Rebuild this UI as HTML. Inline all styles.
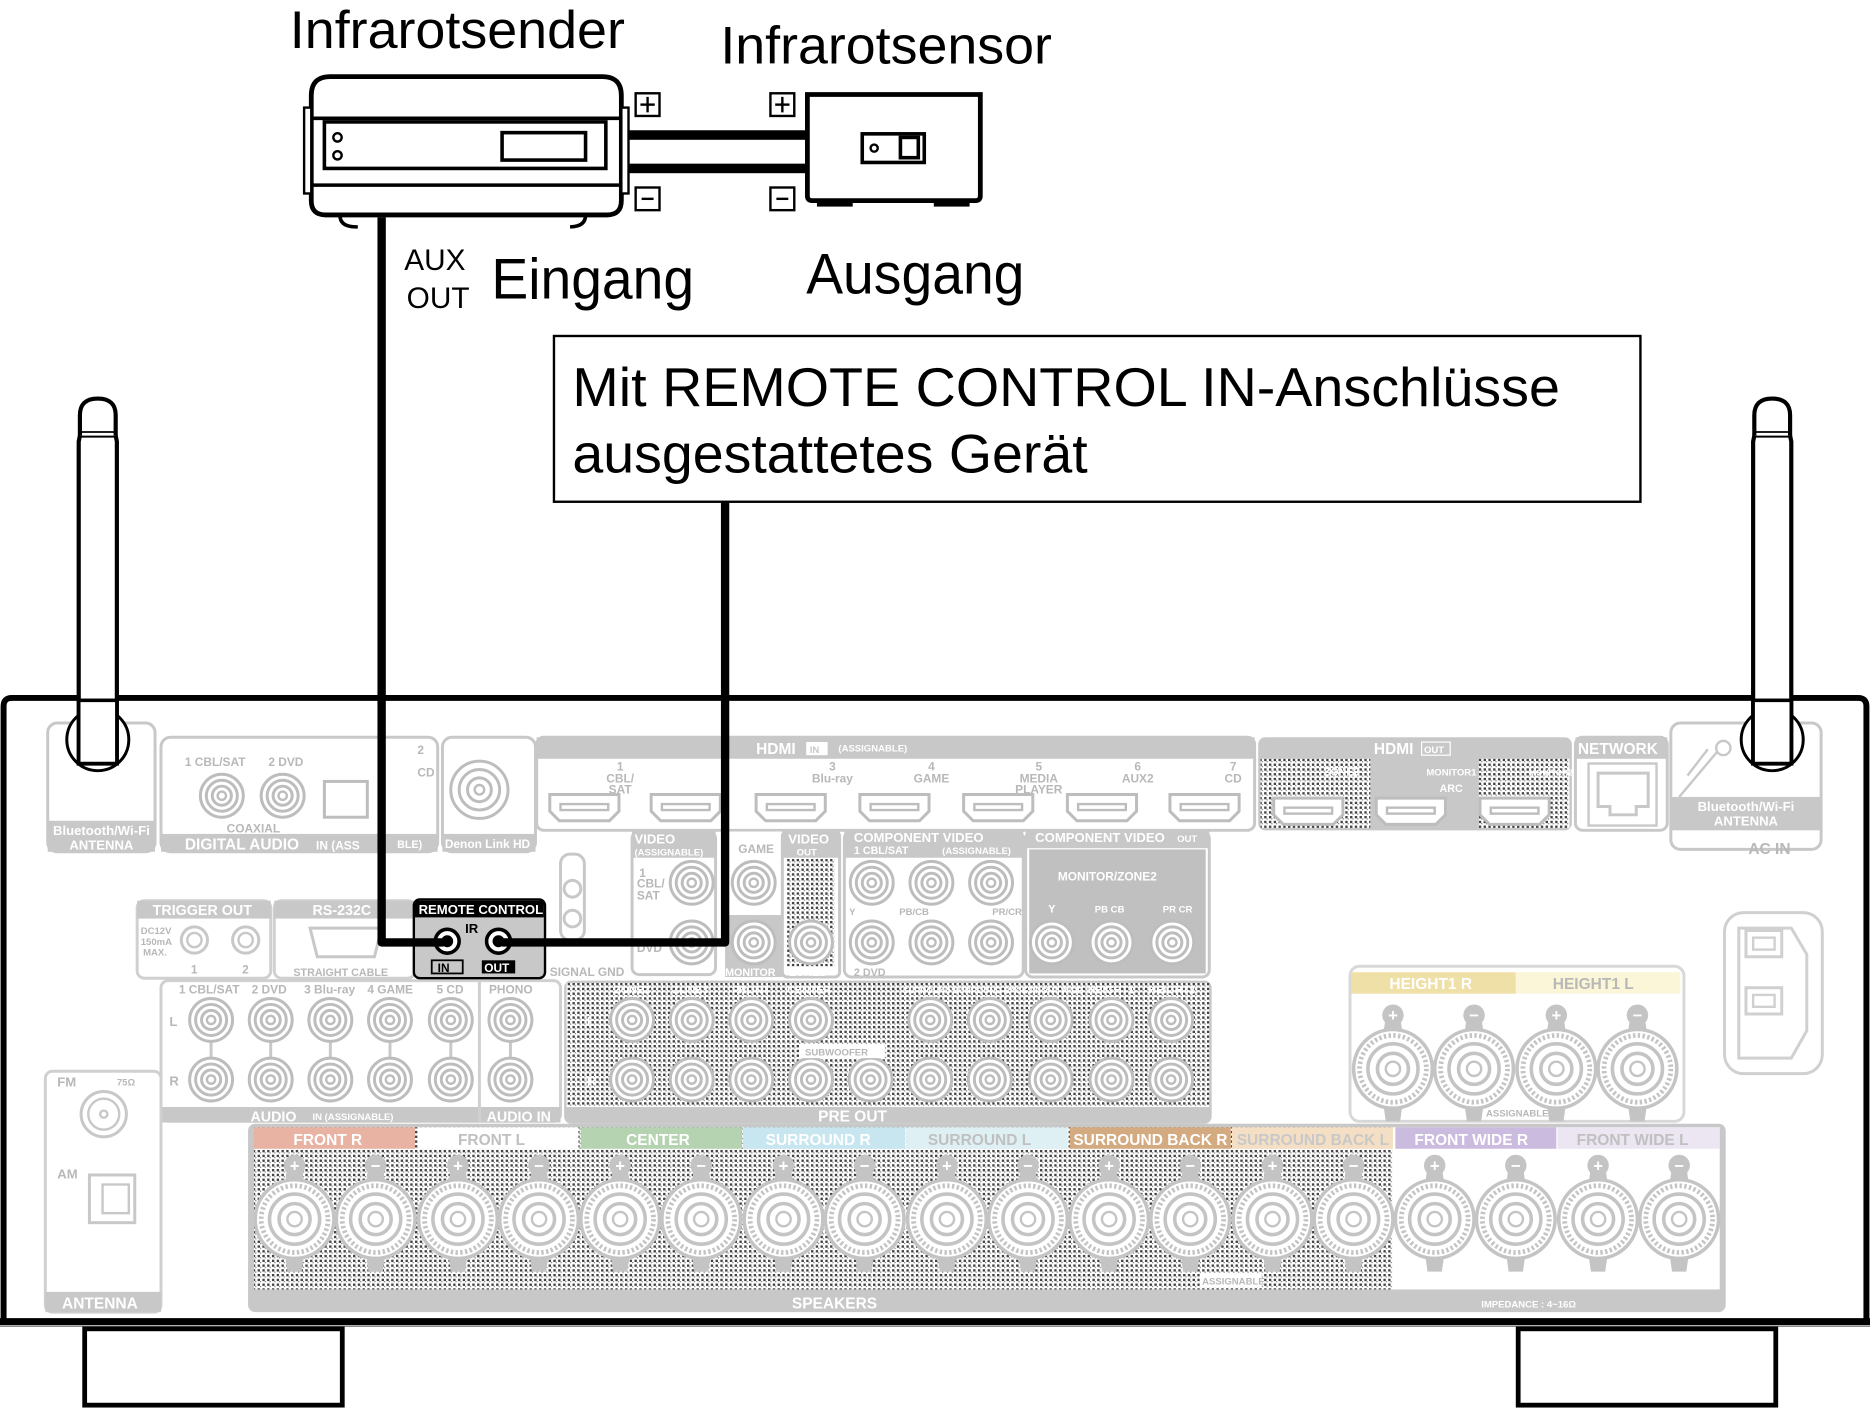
<!DOCTYPE html>
<html><head><meta charset="utf-8"><style>
html,body{margin:0;padding:0;background:#fff}
svg{display:block}
text{font-family:"Liberation Sans",sans-serif}
.g{fill:#fff;font-weight:bold}
.gl{fill:#b8b8b8;font-weight:bold}
</style></head><body>
<svg width="1870" height="1409" viewBox="0 0 1568 1181" xmlns="http://www.w3.org/2000/svg">
<defs>
<pattern id="dots" width="4" height="4" patternUnits="userSpaceOnUse">
<rect width="4" height="4" fill="#fff"/><rect x="0" y="0" width="2" height="2" fill="#444"/><rect x="2" y="2" width="1" height="1" fill="#777"/>
</pattern>
<g id="rca"><circle r="18" fill="#fff" stroke="#bdbdbd" stroke-width="2.5"/><circle r="13" fill="none" stroke="#bdbdbd" stroke-width="2.5"/><circle r="8" fill="none" stroke="#bdbdbd" stroke-width="2.5"/><circle r="3.5" fill="none" stroke="#bdbdbd" stroke-width="2"/></g>
<g id="spk"><path d="M-6,-44 L6,-44 L8,-30 L-8,-30Z M-6,44 L6,44 L8,30 L-8,30Z" fill="#c4c4c4"/><circle r="33" fill="#fff" stroke="#c4c4c4" stroke-width="3"/><circle r="28" fill="none" stroke="#c4c4c4" stroke-width="4" stroke-dasharray="2 2"/><circle r="21" fill="none" stroke="#c4c4c4" stroke-width="3"/><circle r="13" fill="none" stroke="#c4c4c4" stroke-width="3"/><circle r="6" fill="none" stroke="#c4c4c4" stroke-width="2"/></g>
<g id="pair"><rect x="30" y="-5" width="8" height="10" fill="#c4c4c4"/><use href="#spk" x="0"/><use href="#spk" x="68"/><circle cx="0" cy="-45" r="9" fill="#c4c4c4"/><circle cx="68" cy="-45" r="9" fill="#c4c4c4"/><text x="0" y="-40" font-size="14" text-anchor="middle" fill="#fff" font-weight="bold">+</text><text x="68" y="-40" font-size="14" text-anchor="middle" fill="#fff" font-weight="bold">−</text></g>
<g id="hdmi"><path d="M-29,-11 L29,-11 L29,3 L21,11 L-21,11 L-29,3Z" fill="#fff" stroke="#bdbdbd" stroke-width="2.5"/><rect x="-20" y="-3" width="40" height="5" fill="none" stroke="#bdbdbd" stroke-width="2"/></g>
</defs>

<!-- top labels -->
<text x="243" y="40" font-size="44" fill="#000" textLength="281" lengthAdjust="spacingAndGlyphs">Infrarotsender</text>
<text x="604" y="53" font-size="44" fill="#000" textLength="278" lengthAdjust="spacingAndGlyphs">Infrarotsensor</text>
<text x="339" y="226" font-size="25" fill="#000">AUX</text>
<text x="341" y="258" font-size="25" fill="#000">OUT</text>
<text x="412" y="250" font-size="48" fill="#000" textLength="170" lengthAdjust="spacingAndGlyphs">Eingang</text>
<text x="676" y="246" font-size="48" fill="#000" textLength="183" lengthAdjust="spacingAndGlyphs">Ausgang</text>

<!-- transmitter -->
<path d="M261,168 L261,80 Q261,64 277,64 L505,64 Q521,64 521,80 L521,168 Q521,180 509,180 L273,180 Q261,180 261,168Z" fill="#fff" stroke="#000" stroke-width="4"/>
<line x1="261" y1="99" x2="521" y2="99" stroke="#000" stroke-width="3"/>
<line x1="261" y1="155" x2="521" y2="155" stroke="#000" stroke-width="3"/>
<rect x="255" y="90" width="6" height="72" fill="#fff" stroke="#000" stroke-width="2"/>
<rect x="521" y="90" width="6" height="72" fill="#fff" stroke="#000" stroke-width="2"/>
<rect x="272" y="102" width="236" height="39" fill="#fff" stroke="#000" stroke-width="3"/>
<circle cx="283" cy="115" r="3.5" fill="#fff" stroke="#000" stroke-width="2"/>
<circle cx="283" cy="130" r="3.5" fill="#fff" stroke="#000" stroke-width="2"/>
<rect x="421" y="111" width="70" height="23" fill="#fff" stroke="#000" stroke-width="3"/>
<path d="M285,180 Q285,190 298,190 L300,190 M478,190 Q491,190 491,180" fill="none" stroke="#000" stroke-width="3"/>
<!-- wires -->
<rect x="527" y="109" width="150" height="8" fill="#000"/>
<rect x="527" y="137" width="150" height="8" fill="#000"/>
<!-- sensor -->
<path d="M677,79 L822,79 L822,164 Q822,168 818,168 L681,168 Q677,168 677,164Z" fill="#fff" stroke="#000" stroke-width="4"/>
<rect x="685" y="168" width="30" height="5" fill="#000"/><rect x="783" y="168" width="30" height="5" fill="#000"/>
<rect x="723" y="112" width="52" height="24" fill="#fff" stroke="#000" stroke-width="3"/>
<circle cx="733" cy="124" r="3" fill="#fff" stroke="#000" stroke-width="2"/>
<rect x="755" y="115" width="15" height="17" fill="#fff" stroke="#000" stroke-width="3"/>
<!-- +/- boxes -->
<g fill="#fff" stroke="#000" stroke-width="2">
<rect x="533" y="78" width="20" height="19"/><rect x="646" y="78" width="20" height="19"/>
<rect x="533" y="157" width="20" height="19"/><rect x="646" y="157" width="20" height="19"/></g>
<g stroke="#000" stroke-width="2">
<line x1="537" y1="87.5" x2="549" y2="87.5"/><line x1="543" y1="81" x2="543" y2="94"/>
<line x1="650" y1="87.5" x2="662" y2="87.5"/><line x1="656" y1="81" x2="656" y2="94"/>
<line x1="538" y1="166.5" x2="548" y2="166.5"/><line x1="651" y1="166.5" x2="661" y2="166.5"/></g>

<!-- text box -->
<rect x="464.5" y="281.5" width="911" height="139" fill="#fff" stroke="#000" stroke-width="2"/>
<text x="480" y="340" font-size="46" fill="#000" textLength="828" lengthAdjust="spacingAndGlyphs">Mit REMOTE CONTROL IN-Anschlüsse</text>
<text x="480" y="396" font-size="46" fill="#000" textLength="432" lengthAdjust="spacingAndGlyphs">ausgestattetes Gerät</text>

<!-- receiver body -->
<path d="M3,1106 L3,592 Q3,585 10,585 L1558,585 Q1565,585 1565,592 L1565,1106" fill="#fff" stroke="#000" stroke-width="5"/>
<line x1="0" y1="1108" x2="1568" y2="1108" stroke="#000" stroke-width="6"/>
<line x1="0" y1="1112" x2="1568" y2="1112" stroke="#888" stroke-width="1"/>
<rect x="71" y="1114" width="216" height="64" fill="#fff" stroke="#000" stroke-width="4"/>
<rect x="1273" y="1114" width="216" height="64" fill="#fff" stroke="#000" stroke-width="4"/>

<!-- left antenna panel -->
<rect x="40" y="606" width="90" height="108" rx="8" fill="#fff" stroke="#c8c8c8" stroke-width="2.5"/>
<rect x="40" y="688" width="90" height="26" fill="#c8c8c8"/>
<text x="85" y="700" font-size="11" class="g" text-anchor="middle">Bluetooth/Wi-Fi</text>
<text x="85" y="712" font-size="11" class="g" text-anchor="middle">ANTENNA</text>
<!-- digital audio -->
<rect x="135" y="618" width="232" height="96" rx="8" fill="#fff" stroke="#c8c8c8" stroke-width="2.5"/>
<rect x="135" y="699" width="232" height="15" fill="#c8c8c8"/>
<text x="155" y="642" font-size="10" class="gl">1 CBL/SAT</text><text x="225" y="642" font-size="10" class="gl">2 DVD</text>
<text x="350" y="632" font-size="10" class="gl">2</text><text x="350" y="651" font-size="10" class="gl">CD</text>
<use href="#rca" x="186" y="667"/><use href="#rca" x="237" y="667"/>
<rect x="272" y="655" width="36" height="30" fill="#fff" stroke="#bdbdbd" stroke-width="2.5"/>
<text x="190" y="698" font-size="10" class="gl">COAXIAL</text>
<text x="155" y="712" font-size="13" class="g">DIGITAL AUDIO</text>
<text x="265" y="712" font-size="10" class="g">IN (ASS</text><text x="333" y="711" font-size="9" class="g">BLE)</text>
<rect x="371" y="618" width="78" height="96" rx="8" fill="#fff" stroke="#c8c8c8" stroke-width="2.5"/>
<rect x="371" y="699" width="78" height="15" fill="#c8c8c8"/>
<text x="373" y="711" font-size="10" class="g">Denon Link HD</text>
<circle cx="402" cy="662" r="24" fill="#fff" stroke="#bdbdbd" stroke-width="2.5"/><circle cx="402" cy="662" r="17" fill="none" stroke="#bdbdbd" stroke-width="2.5"/><circle cx="402" cy="662" r="10" fill="none" stroke="#bdbdbd" stroke-width="2.5"/><circle cx="402" cy="662" r="4" fill="none" stroke="#bdbdbd" stroke-width="2"/>

<!-- HDMI in -->
<rect x="450" y="618" width="602" height="78" rx="6" fill="#fff" stroke="#c8c8c8" stroke-width="2.5"/>
<rect x="450" y="618" width="602" height="18" fill="#c8c8c8"/>
<text x="634" y="632" font-size="13" class="g">HDMI</text><rect x="676" y="622" width="18" height="11" fill="#fff"/><text x="679" y="631" font-size="8" fill="#c8c8c8" font-weight="bold">IN</text>
<text x="703" y="630" font-size="8" class="g">(ASSIGNABLE)</text>
<g font-size="10" class="gl" text-anchor="middle">
<text x="520" y="646">1</text><text x="520" y="656">CBL/</text><text x="520" y="665">SAT</text>
<text x="698" y="646">3</text><text x="698" y="656">Blu-ray</text>
<text x="781" y="646">4</text><text x="781" y="656">GAME</text>
<text x="871" y="646">5</text><text x="871" y="656">MEDIA</text><text x="871" y="665">PLAYER</text>
<text x="954" y="646">6</text><text x="954" y="656">AUX2</text>
<text x="1034" y="646">7</text><text x="1034" y="656">CD</text></g>
<use href="#hdmi" x="490" y="677"/><use href="#hdmi" x="575" y="677"/><use href="#hdmi" x="663" y="677"/><use href="#hdmi" x="750" y="677"/><use href="#hdmi" x="837" y="677"/><use href="#hdmi" x="924" y="677"/><use href="#hdmi" x="1010" y="677"/>
<!-- HDMI out -->
<rect x="1055" y="618" width="263" height="78" rx="6" fill="#c8c8c8"/>
<rect x="1057" y="636" width="92" height="58" fill="url(#dots)"/>
<rect x="1240" y="636" width="76" height="58" fill="url(#dots)"/>
<text x="1152" y="632" font-size="13" class="g">HDMI</text><rect x="1192" y="622" width="24" height="11" fill="none" stroke="#fff"/><text x="1194" y="631" font-size="8" class="g">OUT</text>
<text x="1110" y="650" font-size="9" class="g">ZONE2</text><text x="1196" y="650" font-size="8" class="g">MONITOR1</text><text x="1207" y="664" font-size="9" class="g">ARC</text><text x="1282" y="650" font-size="7" class="g">MONITOR2</text>
<use href="#hdmi" x="1097" y="680"/><use href="#hdmi" x="1183" y="680"/><use href="#hdmi" x="1270" y="680"/>
<!-- network -->
<rect x="1321" y="618" width="77" height="78" rx="6" fill="#fff" stroke="#c8c8c8" stroke-width="2.5"/>
<rect x="1321" y="618" width="77" height="18" fill="#c8c8c8"/>
<text x="1323" y="632" font-size="13" class="g">NETWORK</text>
<rect x="1332" y="640" width="57" height="52" fill="#fff" stroke="#c8c8c8" stroke-width="2"/>
<path d="M1340,648 H1382 V676 H1372 V683 H1350 V676 H1340Z" fill="none" stroke="#c8c8c8" stroke-width="2.5"/>
<!-- right antenna panel -->
<rect x="1401" y="606" width="126" height="106" rx="8" fill="#fff" stroke="#c8c8c8" stroke-width="2.5"/>
<rect x="1401" y="668" width="126" height="28" fill="#c8c8c8"/>
<text x="1464" y="680" font-size="11" class="g" text-anchor="middle">Bluetooth/Wi-Fi</text>
<text x="1464" y="692" font-size="11" class="g" text-anchor="middle">ANTENNA</text>
<path d="M1408,668 L1440,630 M1415,650 L1432,628" stroke="#c8c8c8" stroke-width="2" fill="none"/>
<circle cx="1445" cy="627" r="6" fill="none" stroke="#c8c8c8" stroke-width="2"/>
<text x="1466" y="716" font-size="13" class="gl">AC IN</text>
<!-- AC inlet -->
<rect x="1446" y="765" width="82" height="135" rx="16" fill="#fff" stroke="#d0d0d0" stroke-width="2.5"/>
<path d="M1458,778 H1502 L1515,800 V864 L1502,887 H1458Z" fill="#fff" stroke="#d0d0d0" stroke-width="2.5"/>
<rect x="1464" y="780" width="30" height="22" fill="none" stroke="#d0d0d0" stroke-width="2.5"/><rect x="1470" y="786" width="18" height="10" fill="none" stroke="#d0d0d0" stroke-width="2"/>
<rect x="1464" y="828" width="30" height="22" fill="none" stroke="#d0d0d0" stroke-width="2.5"/><rect x="1470" y="834" width="18" height="10" fill="none" stroke="#d0d0d0" stroke-width="2"/>

<!-- video in / signal gnd -->
<rect x="470" y="716" width="20" height="72" rx="8" fill="#fff" stroke="#c8c8c8" stroke-width="2.5"/>
<circle cx="480" cy="745" r="7" fill="none" stroke="#c8c8c8" stroke-width="2.5"/><circle cx="480" cy="770" r="7" fill="none" stroke="#c8c8c8" stroke-width="2.5"/>
<text x="461" y="818" font-size="10" class="gl">SIGNAL GND</text>
<rect x="530" y="697" width="70" height="120" rx="6" fill="#fff" stroke="#c8c8c8" stroke-width="2.5"/>
<rect x="530" y="697" width="70" height="22" fill="#c8c8c8"/>
<text x="532" y="707" font-size="11" class="g">VIDEO</text><text x="532" y="717" font-size="8" class="g">(ASSIGNABLE)</text>
<text x="536" y="735" font-size="10" class="gl">1</text><text x="534" y="744" font-size="10" class="gl">CBL/</text><text x="534" y="754" font-size="10" class="gl">SAT</text>
<text x="534" y="798" font-size="10" class="gl">DVD</text>
<use href="#rca" x="580" y="740"/><use href="#rca" x="580" y="790"/>
<rect x="608" y="697" width="48" height="122" fill="#c8c8c8"/>
<rect x="608" y="697" width="48" height="70" fill="#fff"/>
<text x="619" y="715" font-size="10" class="gl">GAME</text><use href="#rca" x="632" y="740"/><use href="#rca" x="632" y="790"/>
<text x="608" y="818" font-size="9" class="g">MONITOR</text>
<rect x="656" y="697" width="48" height="122" rx="4" fill="#fff" stroke="#c8c8c8" stroke-width="2.5"/>
<rect x="660" y="720" width="40" height="90" fill="url(#dots)"/>
<rect x="656" y="697" width="48" height="22" fill="#c8c8c8"/>
<text x="661" y="707" font-size="11" class="g">VIDEO</text><text x="668" y="717" font-size="8" class="g">OUT</text>
<use href="#rca" x="680" y="790"/><text x="662" y="818" font-size="9" class="g">ZONE2</text>
<!-- component in -->
<rect x="708" y="697" width="150" height="122" rx="6" fill="#fff" stroke="#c8c8c8" stroke-width="2.5"/>
<rect x="708" y="697" width="150" height="22" fill="#c8c8c8"/>
<text x="716" y="706" font-size="11" class="g">COMPONENT VIDEO</text><text x="790" y="716" font-size="8" class="g">(ASSIGNABLE)</text>
<text x="716" y="716" font-size="9" class="g">1 CBL/SAT</text>
<use href="#rca" x="731" y="740"/><use href="#rca" x="781" y="740"/><use href="#rca" x="831" y="740"/>
<use href="#rca" x="731" y="790"/><use href="#rca" x="781" y="790"/><use href="#rca" x="831" y="790"/>
<text x="712" y="767" font-size="8" class="gl">Y</text><text x="754" y="767" font-size="8" class="gl">PB/CB</text><text x="832" y="767" font-size="8" class="gl">PR/CR</text>
<text x="716" y="818" font-size="9" class="gl">2 DVD</text>
<!-- component out -->
<rect x="860" y="697" width="154" height="122" rx="6" fill="#fff" stroke="#c8c8c8" stroke-width="2.5"/>
<rect x="860" y="697" width="154" height="14" fill="#c8c8c8"/>
<rect x="863" y="712" width="148" height="104" fill="#c0c0c0"/>
<text x="868" y="706" font-size="11" class="g">COMPONENT VIDEO</text><text x="987" y="706" font-size="8" class="g">OUT</text>
<text x="887" y="738" font-size="10" class="g">MONITOR/ZONE2</text>
<text x="879" y="765" font-size="9" class="g">Y</text><text x="918" y="765" font-size="8" class="g">PB CB</text><text x="975" y="765" font-size="8" class="g">PR CR</text>
<use href="#rca" x="882" y="790"/><use href="#rca" x="932" y="790"/><use href="#rca" x="983" y="790"/>

<!-- trigger / rs232 -->
<rect x="115" y="755" width="112" height="65" rx="6" fill="#fff" stroke="#d0d0d0" stroke-width="2.5"/>
<rect x="115" y="755" width="112" height="15" fill="#c8c8c8"/>
<text x="128" y="767" font-size="12" class="g">TRIGGER OUT</text>
<text x="118" y="783" font-size="8" class="gl">DC12V</text><text x="118" y="792" font-size="8" class="gl">150mA</text><text x="120" y="801" font-size="8" class="gl">MAX.</text>
<circle cx="163" cy="788" r="11" fill="#fff" stroke="#c8c8c8" stroke-width="2.5"/><circle cx="163" cy="788" r="6" fill="none" stroke="#c8c8c8" stroke-width="2"/>
<circle cx="206" cy="788" r="11" fill="#fff" stroke="#c8c8c8" stroke-width="2.5"/><circle cx="206" cy="788" r="6" fill="none" stroke="#c8c8c8" stroke-width="2"/>
<text x="160" y="816" font-size="10" class="gl">1</text><text x="203" y="816" font-size="10" class="gl">2</text>
<rect x="230" y="755" width="118" height="65" rx="6" fill="#fff" stroke="#d0d0d0" stroke-width="2.5"/>
<rect x="230" y="755" width="118" height="15" fill="#c8c8c8"/>
<text x="262" y="767" font-size="12" class="g">RS-232C</text>
<path d="M260,778 H320 L314,802 H266Z" fill="#fff" stroke="#c8c8c8" stroke-width="2.5"/>
<text x="246" y="818" font-size="9" class="gl">STRAIGHT CABLE</text>

<!-- audio in -->
<rect x="135" y="822" width="335" height="118" rx="6" fill="#fff" stroke="#d0d0d0" stroke-width="2.5"/>
<rect x="135" y="928" width="335" height="13" fill="#c8c8c8"/>
<line x1="402" y1="822" x2="402" y2="940" stroke="#d0d0d0" stroke-width="2.5"/>
<g font-size="10" class="gl"><text x="150" y="833">1 CBL/SAT</text><text x="211" y="833">2 DVD</text><text x="255" y="833">3 Blu-ray</text><text x="308" y="833">4 GAME</text><text x="366" y="833">5 CD</text><text x="410" y="833">PHONO</text></g>
<text x="142" y="860" font-size="11" class="gl">L</text><text x="142" y="910" font-size="11" class="gl">R</text>
<g stroke="#c8c8c8" stroke-width="2.5"><line x1="177" y1="855" x2="177" y2="905"/><line x1="227" y1="855" x2="227" y2="905"/><line x1="277" y1="855" x2="277" y2="905"/><line x1="327" y1="855" x2="327" y2="905"/><line x1="378" y1="855" x2="378" y2="905"/><line x1="428" y1="855" x2="428" y2="905"/></g>
<use href="#rca" x="177" y="855"/><use href="#rca" x="227" y="855"/><use href="#rca" x="277" y="855"/><use href="#rca" x="327" y="855"/><use href="#rca" x="378" y="855"/><use href="#rca" x="428" y="855"/>
<use href="#rca" x="177" y="905"/><use href="#rca" x="227" y="905"/><use href="#rca" x="277" y="905"/><use href="#rca" x="327" y="905"/><use href="#rca" x="378" y="905"/><use href="#rca" x="428" y="905"/>
<text x="210" y="940" font-size="12" class="g">AUDIO</text><text x="262" y="939" font-size="8" class="g">IN (ASSIGNABLE)</text>
<text x="408" y="940" font-size="12" class="g">AUDIO IN</text>

<!-- pre out -->
<rect x="473" y="822" width="543" height="120" rx="6" fill="#c8c8c8"/>
<rect x="475" y="824" width="539" height="104" fill="url(#dots)"/>
<g font-size="9" class="g"><text x="515" y="833">ZONE2</text><text x="564" y="833">ZONE3</text><text x="614" y="833">FRONT</text><text x="660" y="833">CENTER</text><text x="757" y="833" font-size="7">SURROUND SURROUND BACK FRONT WIDE</text><text x="912" y="833">HEIGHT1</text><text x="963" y="833">HEIGHT2</text></g>
<text x="492" y="860" font-size="11" class="g">L</text><text x="492" y="910" font-size="11" class="g">R</text>
<g><use href="#rca" x="530" y="855"/><use href="#rca" x="580" y="855"/><use href="#rca" x="630" y="855"/><use href="#rca" x="680" y="855"/><use href="#rca" x="780" y="855"/><use href="#rca" x="830" y="855"/><use href="#rca" x="881" y="855"/><use href="#rca" x="932" y="855"/><use href="#rca" x="982" y="855"/>
<use href="#rca" x="530" y="905"/><use href="#rca" x="580" y="905"/><use href="#rca" x="630" y="905"/><use href="#rca" x="680" y="905"/><use href="#rca" x="730" y="905"/><use href="#rca" x="780" y="905"/><use href="#rca" x="830" y="905"/><use href="#rca" x="881" y="905"/><use href="#rca" x="932" y="905"/><use href="#rca" x="982" y="905"/></g>
<rect x="670" y="876" width="72" height="11" fill="#fff"/><text x="675" y="885" font-size="8" class="gl">SUBWOOFER</text>
<text x="686" y="940" font-size="13" class="g">PRE OUT</text>

<!-- height -->
<rect x="1132" y="810" width="280" height="130" rx="8" fill="#fff" stroke="#d8d8d8" stroke-width="2.5"/>
<rect x="1133" y="815" width="138" height="18" fill="#efe0a8"/><rect x="1271" y="815" width="138" height="18" fill="#fbf6d8"/>
<text x="1165" y="829" font-size="13" class="g">HEIGHT1 R</text><text x="1302" y="829" font-size="13" class="gl">HEIGHT1 L</text>
<use href="#pair" x="1168" y="896"/><use href="#pair" x="1305" y="896"/>
<text x="1246" y="936" font-size="8" class="gl">ASSIGNABLE</text>

<!-- FM/AM -->
<rect x="38" y="898" width="97" height="202" rx="6" fill="#fff" stroke="#d0d0d0" stroke-width="2.5"/>
<rect x="38" y="1083" width="97" height="17" fill="#c8c8c8"/>
<text x="48" y="911" font-size="11" class="gl">FM</text><text x="98" y="910" font-size="8" class="gl">75Ω</text>
<circle cx="87" cy="934" r="19" fill="#fff" stroke="#c8c8c8" stroke-width="2.5"/><circle cx="87" cy="934" r="13" fill="none" stroke="#c8c8c8" stroke-width="2"/><circle cx="87" cy="934" r="3" fill="none" stroke="#c8c8c8" stroke-width="2"/>
<text x="48" y="988" font-size="11" class="gl">AM</text>
<rect x="75" y="985" width="38" height="40" fill="#fff" stroke="#c8c8c8" stroke-width="2.5"/><rect x="86" y="993" width="22" height="24" fill="none" stroke="#c8c8c8" stroke-width="2"/>
<text x="52" y="1097" font-size="13" class="g">ANTENNA</text>

<!-- speakers -->
<rect x="208" y="942" width="1239" height="158" rx="6" fill="#c8c8c8"/>
<rect x="213" y="945" width="955" height="136" fill="url(#dots)"/>
<rect x="1168" y="945" width="274" height="136" fill="#fff"/>
<rect x="213" y="945" width="135" height="18" fill="#e9b3a3"/>
<rect x="350" y="945" width="135" height="18" fill="#fff"/>
<rect x="487" y="945" width="135" height="18" fill="#b5d2b1"/>
<rect x="623" y="945" width="136" height="18" fill="#c7e6f0"/>
<rect x="760" y="945" width="135" height="18" fill="#dff0f4"/>
<rect x="897" y="945" width="135" height="18" fill="#d4aa80"/>
<rect x="1033" y="945" width="135" height="18" fill="#f5dfc4"/>
<rect x="1170" y="945" width="135" height="18" fill="#cbbbde"/>
<rect x="1306" y="945" width="136" height="18" fill="#ebe6f2"/>
<g font-size="13" font-weight="bold">
<text x="246" y="960" fill="#fff">FRONT R</text>
<text x="384" y="960" fill="#c0c0c0">FRONT L</text>
<text x="525" y="960" fill="#fff">CENTER</text>
<text x="642" y="960" fill="#fff">SURROUND R</text>
<text x="778" y="960" fill="#c0c0c0">SURROUND L</text>
<text x="900" y="960" fill="#fff">SURROUND BACK R</text>
<text x="1037" y="960" fill="#c8c8c8">SURROUND BACK L</text>
<text x="1186" y="960" fill="#fff">FRONT WIDE R</text>
<text x="1322" y="960" fill="#c0c0c0">FRONT WIDE L</text></g>
<use href="#pair" x="247" y="1022"/><use href="#pair" x="384" y="1022"/><use href="#pair" x="520" y="1022"/><use href="#pair" x="657" y="1022"/><use href="#pair" x="794" y="1022"/><use href="#pair" x="930" y="1022"/><use href="#pair" x="1067" y="1022"/><use href="#pair" x="1203" y="1022"/><use href="#pair" x="1340" y="1022"/>
<rect x="1006" y="1068" width="52" height="11" fill="#fff"/><text x="1008" y="1077" font-size="8" class="gl">ASSIGNABLE</text>
<text x="664" y="1097" font-size="13" class="g">SPEAKERS</text>
<text x="1242" y="1096" font-size="8" class="g">IMPEDANCE : 4~16Ω</text>

<!-- antennas -->
<circle cx="82" cy="620" r="26" fill="#fff" stroke="#000" stroke-width="2.5"/>
<path d="M66,640 L66,370 L67,365 L97,365 L98,370 L98,640Z" fill="#fff" stroke="#000" stroke-width="3.5"/>
<path d="M67,365 L67,348 Q67,334 82,334 Q97,334 97,348 L97,365" fill="#fff" stroke="#000" stroke-width="3.5"/>
<line x1="68" y1="362" x2="96" y2="362" stroke="#000" stroke-width="1.5"/>
<rect x="66" y="587" width="32" height="53" fill="#fff" stroke="#000" stroke-width="3"/>
<circle cx="1486" cy="620" r="26" fill="#fff" stroke="#000" stroke-width="2.5"/>
<path d="M1470,640 L1470,370 L1471,365 L1501,365 L1502,370 L1502,640Z" fill="#fff" stroke="#000" stroke-width="3.5"/>
<path d="M1471,365 L1471,348 Q1471,334 1486,334 Q1501,334 1501,348 L1501,365" fill="#fff" stroke="#000" stroke-width="3.5"/>
<line x1="1472" y1="362" x2="1500" y2="362" stroke="#000" stroke-width="1.5"/>
<rect x="1470" y="587" width="32" height="53" fill="#fff" stroke="#000" stroke-width="3"/>

<!-- remote control block -->
<rect x="347" y="754" width="110" height="66" rx="5" fill="#c8c8c8" stroke="#000" stroke-width="2"/>
<rect x="348" y="755" width="108" height="14" fill="#000"/>
<text x="351" y="766" font-size="11" fill="#fff" font-weight="bold">REMOTE CONTROL</text>
<text x="390" y="782" font-size="11" fill="#000" font-weight="bold">IR</text>
<rect x="362" y="805" width="26" height="11" fill="none" stroke="#000" stroke-width="1.5"/><text x="367" y="815" font-size="10" fill="#000" font-weight="bold">IN</text>
<rect x="404" y="805" width="28" height="11" fill="#000"/><text x="406" y="815" font-size="10" fill="#fff" font-weight="bold">OUT</text>
<circle cx="375" cy="789" r="10" fill="#fff" stroke="#000" stroke-width="3"/><circle cx="375" cy="789" r="5" fill="#000"/>
<circle cx="418" cy="789" r="10" fill="#fff" stroke="#000" stroke-width="3"/><circle cx="418" cy="789" r="5" fill="#000"/>

<!-- cables -->
<path d="M320,182 L320,790 L372,790" fill="none" stroke="#000" stroke-width="7" stroke-linejoin="round"/>
<path d="M608,421 L608,790 L421,790" fill="none" stroke="#000" stroke-width="7" stroke-linejoin="round"/>
</svg>
</body></html>
